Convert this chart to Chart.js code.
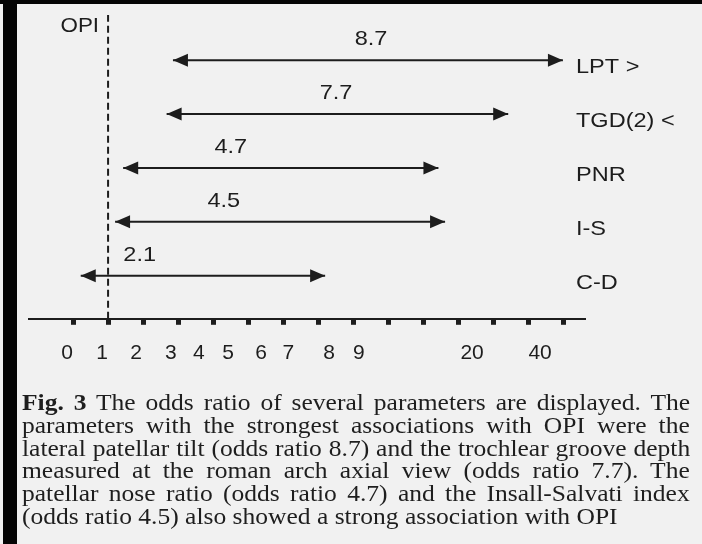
<!DOCTYPE html>
<html lang="en">
<head>
    <meta charset="UTF-8">
    <title>Fig. 3 Odds ratios</title>
    <script src="https://cdn.jsdelivr.net/npm/chart.js@4.4.0/dist/chart.umd.min.js"></script>
    <style>
        body { margin: 0; width: 702px; height: 544px; overflow: hidden; background: #f1f1f1; position: relative; }
        #edgeTop { position: absolute; left: 0; top: 0; width: 702px; height: 4px; background: #050505; }
        #edgeLeft { position: absolute; left: 3px; top: 0; width: 14px; height: 544px; background: #050505; }
        #myChart { position: absolute; left: 0; top: 0; }
        .cap { position: absolute; left: 22px; white-space: nowrap; font-family: "Liberation Serif", "Times New Roman", serif; font-size: 23px;
               line-height: 23px; color: #1e1e1e; transform: scaleX(1.11); transform-origin: 0 0; }
    </style>
</head>
<body>
    <div id="edgeTop"></div>
    <div id="edgeLeft"></div>
    <canvas id="myChart" width="702" height="544"></canvas>
    <div id="caption"></div>

    <script>
        // rows, top to bottom
        const rowNames = ['LPT >', 'TGD(2) <', 'PNR', 'I-S', 'C-D'];
        const oddsRatio = [8.7, 7.7, 4.7, 4.5, 2.1];
        // arrow ends, in axis tick units as drawn (ticks are evenly spaced, labels are not)
        const arrowFrom = [2.85, 2.67, 1.43, 1.20, 0.22];
        const arrowTo = [13.97, 12.41, 10.42, 10.61, 7.19];
        const opiAt = 1;

        const tickMarks = [0, 1, 2, 3, 4, 5, 6, 7, 8, 9, 10, 11, 12, 13, 14];
        const tickLabels = ['0', '1', '2', '3', '4', '5', '6', '7', '8', '9', '20', '40'];
        const tickLabelAt = [-0.17, 0.83, 1.80, 2.79, 3.59, 4.42, 5.36, 6.14, 7.30, 8.15, 11.38, 13.32];

        const captionLines = [
            '<b>Fig. 3</b> The odds ratio of several parameters are displayed. The',
            'parameters with the strongest associations with OPI were the',
            'lateral patellar tilt (odds ratio 8.7) and the trochlear groove depth',
            'measured at the roman arch axial view (odds ratio 7.7). The',
            'patellar nose ratio (odds ratio 4.7) and the Insall-Salvati index',
            '(odds ratio 4.5) also showed a strong association with OPI'
        ];

        const ink = '#1d1d1d';
        const xMin = -1.255, xMax = 14.6;
        const yMin = 0.2, yMax = 5.84;

        Chart.defaults.font.family = '"Liberation Sans", Arial, sans-serif';
        Chart.defaults.color = ink;

        // stretched text, the scan is a bit wider than the font
        function label(ctx, txt, x, y, align, size) {
            ctx.save();
            ctx.translate(x, y);
            ctx.scale(1.12, 1);
            ctx.font = size + 'px "Liberation Sans", Arial, sans-serif';
            ctx.fillStyle = ink;
            ctx.textAlign = align;
            ctx.textBaseline = 'middle';
            ctx.fillText(txt, 0, 0);
            ctx.restore();
        }

        function head(ctx, px, py, dir) {
            ctx.beginPath();
            ctx.moveTo(px, py);
            ctx.lineTo(px - dir * 15, py - 6.5);
            ctx.lineTo(px - dir * 15, py + 6.5);
            ctx.closePath();
            ctx.fill();
        }

        const annotate = {
            id: 'annotate',
            afterDatasetsDraw(chart) {
                const { ctx, chartArea, scales: { x } } = chart;
                ctx.save();
                ctx.fillStyle = ink;
                rowNames.forEach((name, i) => {
                    const [a, b] = chart.getDatasetMeta(i).data;
                    head(ctx, a.x, a.y, -1);
                    head(ctx, b.x, b.y, 1);
                    label(ctx, String(oddsRatio[i]), x.getPixelForValue(oddsRatio[i]) - 7, a.y - 21, 'center', 21);
                    label(ctx, name, chartArea.right - 9, a.y + 7, 'left', 21);
                });
                label(ctx, 'OPI', x.getPixelForValue(opiAt) - 9, chartArea.top + 11, 'right', 20);
                ctx.restore();
            }
        };

        const datasets = rowNames.map((name, i) => ({
            label: name,
            data: [{ x: arrowFrom[i], y: rowNames.length - i }, { x: arrowTo[i], y: rowNames.length - i }],
            borderColor: ink,
            borderWidth: 2
        }));
        datasets.push({
            label: 'OPI',
            data: [{ x: opiAt, y: yMin }, { x: opiAt, y: yMax }],
            borderColor: ink,
            borderWidth: 2,
            borderDash: [7, 4]
        });

        new Chart(document.getElementById('myChart'), {
            type: 'scatter',
            data: { datasets: datasets },
            options: {
                responsive: false,
                animation: false,
                devicePixelRatio: 1,
                showLine: true,
                clip: false,
                elements: { point: { radius: 0, hoverRadius: 0 } },
                layout: { padding: { left: 29, right: 117, top: 15, bottom: 170 } },
                plugins: { legend: { display: false }, tooltip: { enabled: false } },
                scales: {
                    x: {
                        type: 'linear', position: 'bottom', weight: 0, min: xMin, max: xMax,
                        afterBuildTicks: s => { s.ticks = tickMarks.map(v => ({ value: v })); },
                        ticks: { display: false },
                        grid: { drawOnChartArea: false, drawTicks: true, tickLength: 6, tickWidth: 5, tickColor: ink },
                        border: { display: true, color: ink, width: 2 }
                    },
                    xLabels: {
                        type: 'linear', position: 'bottom', weight: 1, min: xMin, max: xMax,
                        afterBuildTicks: s => { s.ticks = tickLabelAt.map(v => ({ value: v })); },
                        ticks: {
                            autoSkip: false, maxRotation: 0, padding: 8,
                            font: { size: 21 },
                            callback: (v, i) => tickLabels[i]
                        },
                        grid: { display: false },
                        border: { display: false }
                    },
                    y: { type: 'linear', min: yMin, max: yMax, display: false }
                }
            },
            plugins: [annotate]
        });

        // caption, one justified line at a time
        const stretch = 1.11, capWidth = 668;
        const box = document.getElementById('caption');
        captionLines.forEach((line, i) => {
            const d = document.createElement('div');
            d.className = 'cap';
            d.style.top = (391 + i * 22.8) + 'px';
            d.innerHTML = line;
            box.appendChild(d);
            if (i < captionLines.length - 1) {
                const gaps = (d.textContent.match(/ /g) || []).length;
                const extra = capWidth / stretch - d.offsetWidth;
                d.style.wordSpacing = (extra / gaps) + 'px';
            }
        });
    </script>
</body>
</html>
